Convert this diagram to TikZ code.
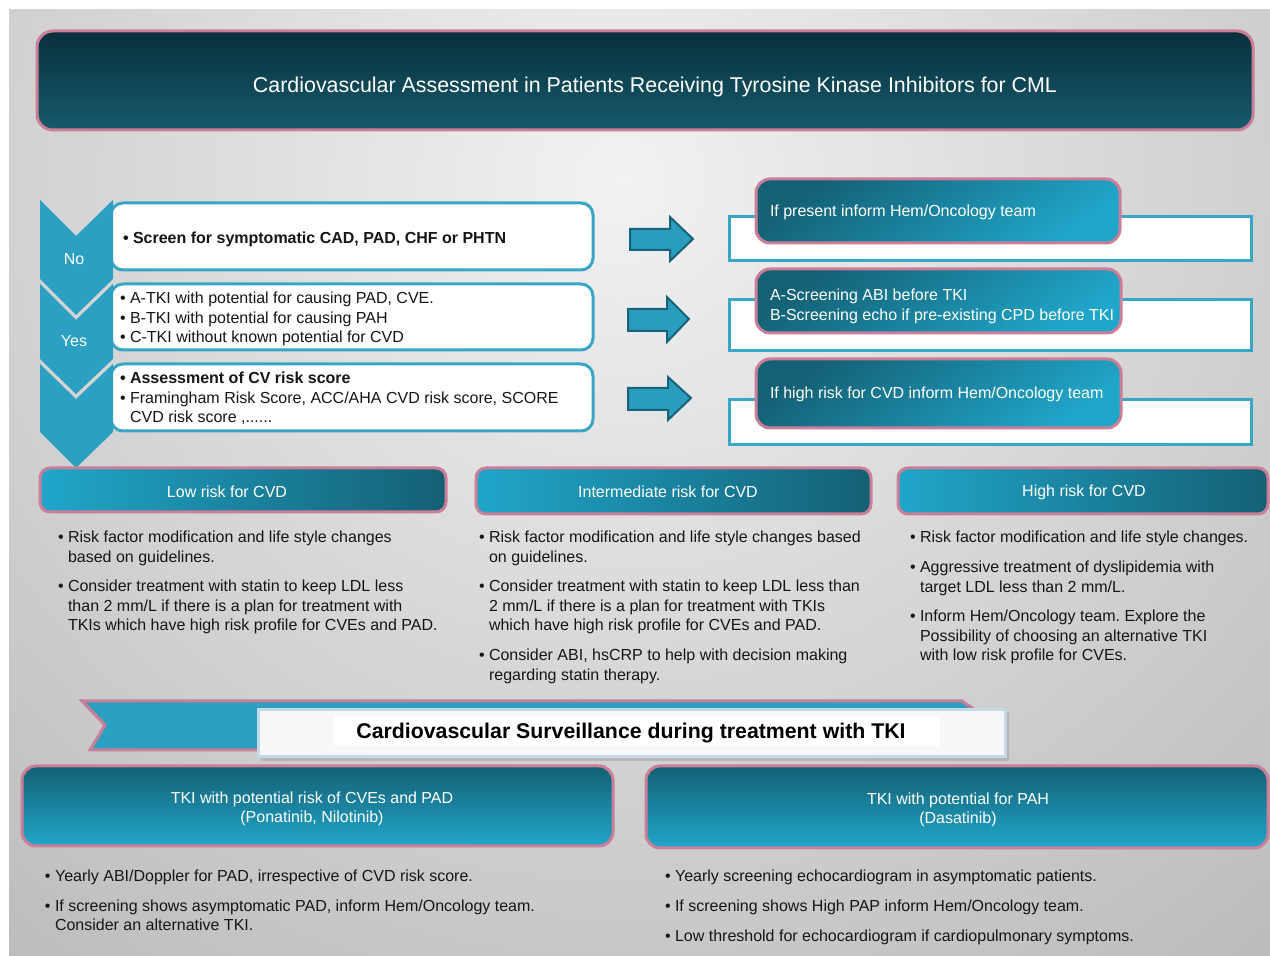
\documentclass[tikz,border=0pt]{standalone}
\usepackage{fontspec}
\setmainfont{Liberation Sans}
\definecolor{bgin}{RGB}{242,242,242}
\definecolor{bgout}{RGB}{165,165,165}
\definecolor{pinkb}{RGB}{202,126,152}
\definecolor{ttop}{RGB}{8,48,60}
\definecolor{tbot}{RGB}{22,90,108}
\definecolor{chev}{RGB}{44,160,194}
\definecolor{boxb}{RGB}{58,166,198}
\definecolor{arrf}{RGB}{42,156,190}
\definecolor{arrb}{RGB}{24,98,122}
\definecolor{tealD}{RGB}{20,96,116}
\definecolor{tealL}{RGB}{32,166,202}
\definecolor{txt}{RGB}{22,22,22}
\definecolor{survb}{RGB}{196,218,228}
\newcommand\mylines[1]{\begin{tabular}[t]{@{}l@{}}#1\end{tabular}}
\newcommand\ind{\phantom{•\ }}
\frenchspacing
\begin{document}
\frenchspacing
\begin{tikzpicture}[x=0.5pt,y=-0.5pt,
  every node/.style={inner sep=0pt, outer sep=0pt},
  bodytext/.style={font=\fontsize{8}{9.75}\selectfont\frenchspacing, text=txt, anchor=base west, yshift=-1pt},
  whitetext/.style={font=\fontsize{8}{9.75}\selectfont\frenchspacing, text=white, yshift=-1pt},
  leftbox/.style={draw=boxb, line width=1.5pt, fill=white, rounded corners=6pt, anchor=north west},
  outbox/.style={draw=boxb, line width=1.5pt, fill=white, anchor=north west},
  tealbox/.style={draw=pinkb, line width=1.5pt, rounded corners=7pt, top color=tealD, bottom color=tealL, shading angle=35, anchor=north west},
  riskhead/.style={draw=pinkb, line width=1.5pt, rounded corners=5pt, left color=tealL, right color=tealD, anchor=north west},
  survteal/.style={draw=pinkb, line width=1.5pt, rounded corners=7pt, top color=tealD, bottom color=tealL, anchor=north west},
  blockarrow/.style={fill=arrf, draw=arrb, line width=1pt, line join=miter},
  chevron/.style={fill=chev}
]
\useasboundingbox (0,0) rectangle (1270,956);
\fill[white] (0,0) rectangle (1270,956);
% background
\fill[bgout] (9,10) rectangle (1270,956);
\begin{scope}
\clip (9,10) rectangle (1270,956);
\shade[inner color=bgin, outer color=bgout] (620,180) ellipse [x radius=1450, y radius=1400];
\end{scope}

% title
\node[draw=pinkb, line width=1.5pt, rounded corners=8pt, top color=ttop, bottom color=tbot,
      minimum width=608pt, minimum height=49.5pt, anchor=north west] (title) at (37,31) {};
\node[font=\fontsize{10.7}{12}\selectfont, text=white, yshift=-1pt] (titletxt) at (655,85)
  {Cardiovascular Assessment in Patients Receiving Tyrosine Kinase Inhibitors for CML};

% left boxes
\node[leftbox, minimum width=241pt, minimum height=33.5pt] (b1) at (111,203) {};
\node[leftbox, minimum width=241pt, minimum height=33pt] (b2) at (111,284) {};
\node[leftbox, minimum width=241pt, minimum height=33.5pt] (b3) at (111,364) {};

% chevrons
\fill[chevron] (40,200) -- (76,236) -- (113,200) -- (113,279) -- (76,315) -- (40,279) -- cycle;
\fill[chevron] (40,284) -- (76,320) -- (113,284) -- (113,359) -- (76,394) -- (40,359) -- cycle;
\fill[chevron] (40,364) -- (76,399) -- (113,364) -- (113,432) -- (76,468) -- (40,432) -- cycle;
\node[whitetext] (no) at (74,257) {No};
\node[whitetext] (yes) at (74,339) {Yes};

\node[bodytext, font=\fontsize{8}{9.75}\selectfont\bfseries] (b1t) at (123,242)
  {• Screen for symptomatic CAD, PAD, CHF or PHTN};
\node[bodytext] (b2t) at (120,302)
  {\mylines{• A-TKI with potential for causing PAD, CVE.\\• B-TKI with potential for causing PAH\\• C-TKI without known potential for CVD}};
\node[bodytext] (b3t) at (120,382)
  {\mylines{\textbf{• Assessment of CV risk score}\\• Framingham Risk Score, ACC/AHA CVD risk score, SCORE\\\ind CVD risk score ,......}};

% arrows
\draw[blockarrow] (630,229) -- (670,229) -- (670,217) -- (693,239) -- (670,261) -- (670,250) -- (630,250) -- cycle;
\draw[blockarrow] (628,309) -- (667,309) -- (667,297) -- (689,319) -- (667,342) -- (667,331) -- (628,331) -- cycle;
\draw[blockarrow] (628,388) -- (668,388) -- (668,377) -- (691,398) -- (668,420) -- (668,410) -- (628,410) -- cycle;

% right boxes
\node[outbox, minimum width=261pt, minimum height=22pt] (r1) at (729,217) {};
\node[outbox, minimum width=261pt, minimum height=25.5pt] (r2) at (729,300) {};
\node[outbox, minimum width=261pt, minimum height=22.5pt] (r3) at (729,400) {};
\node[tealbox, minimum width=182pt, minimum height=32pt] (t1) at (756,179) {};
\node[tealbox, minimum width=182.5pt, minimum height=32pt] (t2) at (756,269) {};
\node[tealbox, minimum width=182.5pt, minimum height=34.5pt] (t3) at (756,359) {};
\node[whitetext, anchor=base west] (t1t) at (770,215) {If present inform Hem/Oncology team};
\node[whitetext, anchor=base west] (t2t) at (770,299) {\mylines{A-Screening ABI before TKI\\B-Screening echo if pre-existing CPD before TKI}};
\node[whitetext, anchor=base west] (t3t) at (770,397) {If high risk for CVD inform Hem/Oncology team};

% risk headers
\node[riskhead, minimum width=203pt, minimum height=22pt] (low) at (40,468) {};
\node[riskhead, minimum width=197.5pt, minimum height=23pt] (mid) at (476,468) {};
\node[riskhead, minimum width=185pt, minimum height=23pt] (high) at (898,468) {};
\node[whitetext] (lowt) at (227,490) {Low risk for CVD};
\node[whitetext] (midt) at (668,490) {Intermediate risk for CVD};
\node[whitetext] (hight) at (1084,490) {High risk for CVD};

% risk bullets
\node[bodytext] (low1) at (58,541) {\mylines{• Risk factor modification and life style changes\\\ind based on guidelines.}};
\node[bodytext] (low2) at (58,590) {\mylines{• Consider treatment with statin to keep LDL less\\\ind than 2 mm/L if there is a plan for treatment with\\\ind TKIs which have high risk profile for CVEs and PAD.}};
\node[bodytext] (mid1) at (479,541) {\mylines{• Risk factor modification and life style changes based\\\ind on guidelines.}};
\node[bodytext] (mid2) at (479,590) {\mylines{• Consider treatment with statin to keep LDL less than\\\ind 2 mm/L if there is a plan for treatment with TKIs\\\ind which have high risk profile for CVEs and PAD.}};
\node[bodytext] (mid3) at (479,659) {\mylines{• Consider ABI, hsCRP to help with decision making\\\ind regarding statin therapy.}};
\node[bodytext] (high1) at (910,541) {• Risk factor modification and life style changes.};
\node[bodytext] (high2) at (910,571) {\mylines{• Aggressive treatment of dyslipidemia with\\\ind target LDL less than 2 mm/L.}};
\node[bodytext] (high3) at (910,620) {\mylines{• Inform Hem/Oncology team. Explore the\\\ind Possibility of choosing an alternative TKI\\\ind with low risk profile for CVEs.}};

% surveillance banner
\draw[fill=chev, draw=pinkb, line width=1.5pt] (82,701) -- (962,701) -- (978,712) -- (978,750) -- (90,750) -- (105,725) -- cycle;
\fill[black, opacity=0.12] (261,713) rectangle (1009,761);
\node[draw=survb, line width=1.5pt, fill={rgb,255:red,246;green,248;blue,249}, minimum width=373.5pt, minimum height=23.5pt, anchor=north west] (surv) at (258,710) {};
\fill[white] (334,716) rectangle (940,746);
\node[font=\fontsize{10.65}{12}\selectfont\bfseries, text=black, yshift=-1pt] (survt) at (631,731) {Cardiovascular Surveillance during treatment with TKI};

% bottom teal boxes
\node[survteal, minimum width=295.5pt, minimum height=40pt] (bl) at (22,766) {};
\node[survteal, minimum width=311pt, minimum height=41pt] (br) at (646,766) {};
\node[whitetext, align=center] (blt) at (312,807) {TKI with potential risk of CVEs and PAD\\(Ponatinib, Nilotinib)};
\node[whitetext, align=center] (brt) at (958,808) {TKI with potential for PAH\\(Dasatinib)};

% bottom bullets
\node[bodytext] (bl1) at (45,879) {• Yearly ABI/Doppler for PAD, irrespective of CVD risk score.};
\node[bodytext] (bl2) at (45,909) {\mylines{• If screening shows asymptomatic PAD, inform Hem/Oncology team.\\\ind Consider an alternative TKI.}};
\node[bodytext] (br1) at (665,879) {• Yearly screening echocardiogram in asymptomatic patients.};
\node[bodytext] (br2) at (665,909) {• If screening shows High PAP inform Hem/Oncology team.};
\node[bodytext] (br3) at (665,939) {• Low threshold for echocardiogram if cardiopulmonary symptoms.};
\end{tikzpicture}
\end{document}
